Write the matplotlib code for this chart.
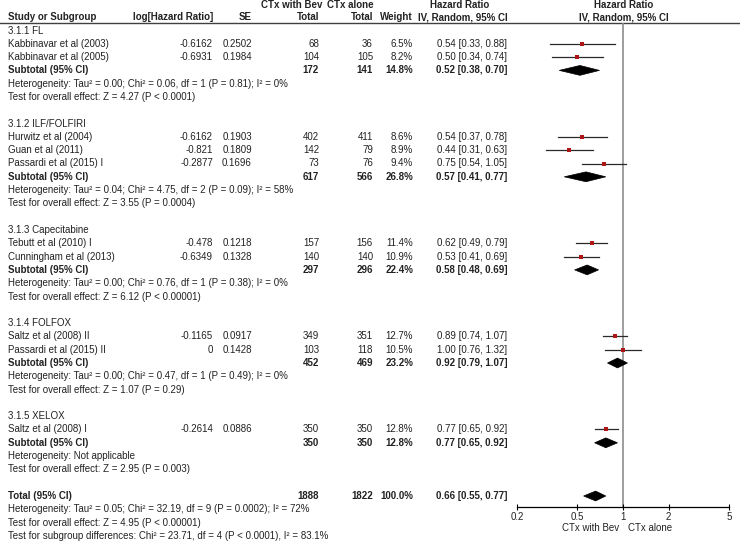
import matplotlib
matplotlib.use("Agg")
import matplotlib.pyplot as plt
from matplotlib.patches import Polygon

plt.rcParams["font.family"] = ["Liberation Sans", "DejaVu Sans"]

# ============================================================
# 数据
# ============================================================

group_names = ["3.1.1 FL", "3.1.2 ILF/FOLFIRI", "3.1.3 Capecitabine", "3.1.4 FOLFOX", "3.1.5 XELOX"]

# 每个亚组里的研究
studies = [
    ["Kabbinavar et al (2003)", "Kabbinavar et al (2005)"],
    ["Hurwitz et al (2004)", "Guan et al (2011)", "Passardi et al (2015) I"],
    ["Tebutt et al (2010) I", "Cunningham et al (2013)"],
    ["Saltz et al (2008) II", "Passardi et al (2015) II"],
    ["Saltz et al (2008) I"],
]
log_hr = [
    ["-0.6162", "-0.6931"],
    ["-0.6162", "-0.821", "-0.2877"],
    ["-0.478", "-0.6349"],
    ["-0.1165", "0"],
    ["-0.2614"],
]
se = [
    ["0.2502", "0.1984"],
    ["0.1903", "0.1809", "0.1696"],
    ["0.1218", "0.1328"],
    ["0.0917", "0.1428"],
    ["0.0886"],
]
n_bev = [[68, 104], [402, 142, 73], [157, 140], [349, 103], [350]]
n_alone = [[36, 105], [411, 79, 76], [156, 140], [351, 118], [350]]
weight = [[6.5, 8.2], [8.6, 8.9, 9.4], [11.4, 10.9], [12.7, 10.5], [12.8]]
hr = [[0.54, 0.50], [0.54, 0.44, 0.75], [0.62, 0.53], [0.89, 1.00], [0.77]]
hr_lo = [[0.33, 0.34], [0.37, 0.31, 0.54], [0.49, 0.41], [0.74, 0.76], [0.65]]
hr_hi = [[0.88, 0.74], [0.78, 0.63, 1.05], [0.79, 0.69], [1.07, 1.32], [0.92]]

# 亚组合计
sub_bev = [172, 617, 297, 452, 350]
sub_alone = [141, 566, 296, 469, 350]
sub_weight = [14.8, 26.8, 22.4, 23.2, 12.8]
sub_hr = [0.52, 0.57, 0.58, 0.92, 0.77]
sub_lo = [0.38, 0.41, 0.48, 0.79, 0.65]
sub_hi = [0.70, 0.77, 0.69, 1.07, 0.92]
sub_het = [
    "Heterogeneity: Tau² = 0.00; Chi² = 0.06, df = 1 (P = 0.81); I² = 0%",
    "Heterogeneity: Tau² = 0.04; Chi² = 4.75, df = 2 (P = 0.09); I² = 58%",
    "Heterogeneity: Tau² = 0.00; Chi² = 0.76, df = 1 (P = 0.38); I² = 0%",
    "Heterogeneity: Tau² = 0.00; Chi² = 0.47, df = 1 (P = 0.49); I² = 0%",
    "Heterogeneity: Not applicable",
]
sub_test = [
    "Test for overall effect: Z = 4.27 (P < 0.0001)",
    "Test for overall effect: Z = 3.55 (P = 0.0004)",
    "Test for overall effect: Z = 6.12 (P < 0.00001)",
    "Test for overall effect: Z = 1.07 (P = 0.29)",
    "Test for overall effect: Z = 2.95 (P = 0.003)",
]

# 总计
total_bev = 1888
total_alone = 1822
total_weight = 100.0
total_hr = 0.66
total_lo = 0.55
total_hi = 0.77
total_notes = [
    "Heterogeneity: Tau² = 0.05; Chi² = 32.19, df = 9 (P = 0.0002); I² = 72%",
    "Test for overall effect: Z = 4.95 (P < 0.00001)",
    "Test for subgroup differences: Chi² = 23.71, df = 4 (P < 0.0001), I² = 83.1%",
]

x_ticks = [0.2, 0.5, 1, 2, 5]
x_tick_labels = ["0.2", "0.5", "1", "2", "5"]

# ============================================================
# 版式（像素）
# ============================================================

W, H = 740, 541
ROW0 = 30.5
ROW_H = 13.3
FS = 7.0
TXT = "#222222"

X_STUDY = 8
X_LOGHR = 213
X_SE = 252
X_NBEV = 319
X_NALONE = 373
X_WEIGHT = 413
X_HRTXT = 507

PLOT_L, PLOT_R = 517, 729
HEAD_LINE_Y = 23
AXIS_Y = 507


def row_y(i):
    return ROW0 + ROW_H * i


def fmt_ci(h, lo, hi):
    return f"{h:.2f} [{lo:.2f}, {hi:.2f}]"


fig = plt.figure(figsize=(W / 100, H / 100), dpi=100)

tab = fig.add_axes([0, 0, 1, 1])
tab.set_xlim(0, W)
tab.set_ylim(H, 0)
tab.axis("off")

# 森林图坐标轴：x 为对数 HR，y 为行号
ax = fig.add_axes([PLOT_L / W, (H - AXIS_Y) / H,
                   (PLOT_R - PLOT_L) / W, (AXIS_Y - HEAD_LINE_Y) / H])
ax.set_xscale("log")
ax.set_xlim(0.2, 5)
ax.set_ylim((AXIS_Y - ROW0) / ROW_H, (HEAD_LINE_Y - ROW0) / ROW_H)
ax.patch.set_alpha(0)
for s in ["top", "left", "right"]:
    ax.spines[s].set_visible(False)
ax.spines["bottom"].set_linewidth(0.9)
ax.set_yticks([])
ax.set_xticks(x_ticks)
ax.set_xticklabels(x_tick_labels, fontsize=FS, color=TXT)
ax.minorticks_off()
ax.tick_params(axis="x", direction="inout", length=5, width=0.8, pad=1.2)
ax.axvline(1, color="#8c8c8c", lw=1.2, zorder=1)


def put(x, i, s, ha="right", bold=False):
    tab.text(x, row_y(i), s, ha=ha, va="center", fontsize=FS, color=TXT,
             fontweight="bold" if bold else "normal")


def diamond(i, h, lo, hi):
    d = 0.37
    ax.add_patch(Polygon([(lo, i), (h, i - d), (hi, i), (h, i + d)],
                         closed=True, fc="black", ec="black", lw=0.5, zorder=3))


# 表头
tab.text(322, 5, "CTx with Bev", ha="right", va="center", fontsize=FS, color=TXT, fontweight="bold")
tab.text(X_NALONE + 1, 5, "CTx alone", ha="right", va="center", fontsize=FS, color=TXT, fontweight="bold")
tab.text(460, 5, "Hazard Ratio", ha="center", va="center", fontsize=FS, color=TXT, fontweight="bold")
tab.text(624, 5, "Hazard Ratio", ha="center", va="center", fontsize=FS, color=TXT, fontweight="bold")
hy = 17
for x, s, ha in [(X_STUDY, "Study or Subgroup", "left"), (X_LOGHR, "log[Hazard Ratio]", "right"),
                 (X_SE, "SE", "right"), (X_NBEV, "Total", "right"), (X_NALONE, "Total", "right"),
                 (X_WEIGHT, "Weight", "right"), (508, "IV, Random, 95% CI", "right"),
                 (624, "IV, Random, 95% CI", "center")]:
    tab.text(x, hy, s, ha=ha, va="center", fontsize=FS, color=TXT, fontweight="bold")
tab.plot([0, W], [HEAD_LINE_Y, HEAD_LINE_Y], color="#404040", lw=1.0)

# 各亚组
i = 0
for g in range(len(group_names)):
    put(X_STUDY, i, group_names[g], ha="left")
    i += 1
    for k in range(len(studies[g])):
        put(X_STUDY, i, studies[g][k], ha="left")
        put(X_LOGHR, i, log_hr[g][k])
        put(X_SE, i, se[g][k])
        put(X_NBEV, i, str(n_bev[g][k]))
        put(X_NALONE, i, str(n_alone[g][k]))
        put(X_WEIGHT, i, f"{weight[g][k]:.1f}%")
        put(X_HRTXT, i, fmt_ci(hr[g][k], hr_lo[g][k], hr_hi[g][k]))
        ax.plot([hr_lo[g][k], hr_hi[g][k]], [i, i], color="#2a2a2a", lw=0.9, zorder=2,
                clip_on=False)
        ax.plot(hr[g][k], i, "s", color="#b01515", ms=2.6, mew=0, zorder=4)
        i += 1
    put(X_STUDY, i, "Subtotal (95% CI)", ha="left", bold=True)
    put(X_NBEV, i, str(sub_bev[g]), bold=True)
    put(X_NALONE, i, str(sub_alone[g]), bold=True)
    put(X_WEIGHT, i, f"{sub_weight[g]:.1f}%", bold=True)
    put(X_HRTXT, i, fmt_ci(sub_hr[g], sub_lo[g], sub_hi[g]), bold=True)
    diamond(i, sub_hr[g], sub_lo[g], sub_hi[g])
    i += 1
    put(X_STUDY, i, sub_het[g], ha="left")
    i += 1
    put(X_STUDY, i, sub_test[g], ha="left")
    i += 2

# 总计
put(X_STUDY, i, "Total (95% CI)", ha="left", bold=True)
put(X_NBEV, i, str(total_bev), bold=True)
put(X_NALONE, i, str(total_alone), bold=True)
put(X_WEIGHT, i, f"{total_weight:.1f}%", bold=True)
put(X_HRTXT, i, fmt_ci(total_hr, total_lo, total_hi), bold=True)
diamond(i, total_hr, total_lo, total_hi)
for note in total_notes:
    i += 1
    put(X_STUDY, i, note, ha="left")

# 轴下说明
tab.text(619, 528, "CTx with Bev", ha="right", va="center", fontsize=FS, color=TXT)
tab.text(628, 528, "CTx alone", ha="left", va="center", fontsize=FS, color=TXT)

fig.savefig("out.png", dpi=100)
